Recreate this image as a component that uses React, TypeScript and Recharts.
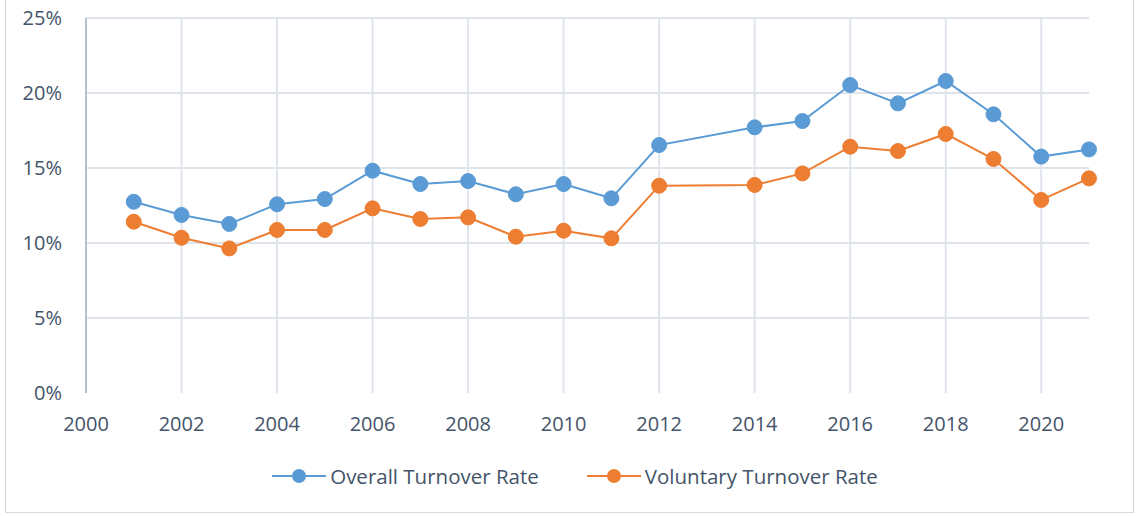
import React from 'react';
import { LineChart, Line, XAxis, YAxis, CartesianGrid, Legend } from 'recharts';

const years = [2001, 2002, 2003, 2004, 2005, 2006, 2007, 2008, 2009, 2010, 2011, 2012, 2014, 2015, 2016, 2017, 2018, 2019, 2020, 2021];
const overallRate = [12.75, 11.87, 11.27, 12.58, 12.93, 14.82, 13.93, 14.13, 13.25, 13.93, 12.98, 16.53, 17.71, 18.13, 20.53, 19.31, 20.8, 18.58, 15.76, 16.24];
const voluntaryRate = [11.42, 10.35, 9.64, 10.87, 10.87, 12.31, 11.6, 11.71, 10.42, 10.82, 10.31, 13.82, 13.87, 14.64, 16.42, 16.13, 17.27, 15.6, 12.87, 14.31];
const xTicks = [2000, 2002, 2004, 2006, 2008, 2010, 2012, 2014, 2016, 2018, 2020];
const yTicks = [0, 5, 10, 15, 20, 25];

const data = years.map((year, i) => ({
  year,
  overall: overallRate[i],
  voluntary: voluntaryRate[i],
}));

const BLUE = '#5b9bd5';
const ORANGE = '#ed7d31';
const TEXT = '#44546a';
const FONT = '"Open Sans", sans-serif';

const LegendContent = () => {
  const items = [
    { label: 'Overall Turnover Rate', color: BLUE },
    { label: 'Voluntary Turnover Rate', color: ORANGE },
  ];
  return (
    <div style={{ display: 'flex', justifyContent: 'center', gap: 48, fontFamily: FONT, fontSize: 20.5, color: TEXT, lineHeight: '26px' }}>
      {items.map((it) => (
        <div key={it.label} style={{ display: 'flex', alignItems: 'center' }}>
          <svg width={54} height={16} style={{ marginRight: 4 }}>
            <line x1={0} y1={8} x2={54} y2={8} stroke={it.color} strokeWidth={2} />
            <circle cx={27} cy={8} r={7} fill={it.color} />
          </svg>
          <span>{it.label}</span>
        </div>
      ))}
    </div>
  );
};

const App: React.FC = () => {
  return (
    <div style={{ position: 'absolute', left: 0, top: 0, width: 1138, height: 516, background: '#fff' }}>
      <div style={{ position: 'absolute', left: 5, top: -2, width: 1129, height: 515, border: '1px solid #d9d9d9', boxSizing: 'border-box' }} />
      <LineChart width={1138} height={516} data={data} margin={{ top: 18, right: 49, bottom: 0, left: 0 }}>
        <CartesianGrid
          stroke="#dfe3ea"
          strokeWidth={2}
          horizontalValues={[5, 10, 15, 20, 25]}
          verticalValues={[2002, 2004, 2006, 2008, 2010, 2012, 2014, 2016, 2018, 2020]}
        />
        <XAxis
          dataKey="year"
          type="number"
          domain={[2000, 2021]}
          ticks={xTicks}
          axisLine={false}
          tickLine={false}
          tickMargin={18}
          height={97}
          tick={{ fontSize: 20, fill: TEXT, fontFamily: FONT }}
        />
        <YAxis
          type="number"
          domain={[0, 25]}
          ticks={yTicks}
          width={86}
          axisLine={{ stroke: '#b4bfcf', strokeWidth: 2 }}
          tickLine={false}
          tickMargin={18}
          tickFormatter={(v: number) => `${v}%`}
          tick={{ fontSize: 20, fill: TEXT, fontFamily: FONT }}
        />
        <Legend verticalAlign="bottom" content={<LegendContent />} wrapperStyle={{ bottom: 27, left: 0, width: 1150 }} />
        <Line
          dataKey="overall"
          name="Overall Turnover Rate"
          stroke={BLUE}
          strokeWidth={2}
          dot={{ r: 7.5, fill: BLUE, stroke: BLUE, strokeWidth: 1 }}
          activeDot={false}
          isAnimationActive={false}
        />
        <Line
          dataKey="voluntary"
          name="Voluntary Turnover Rate"
          stroke={ORANGE}
          strokeWidth={2}
          dot={{ r: 7.5, fill: ORANGE, stroke: ORANGE, strokeWidth: 1 }}
          activeDot={false}
          isAnimationActive={false}
        />
      </LineChart>
    </div>
  );
};

export default App;
